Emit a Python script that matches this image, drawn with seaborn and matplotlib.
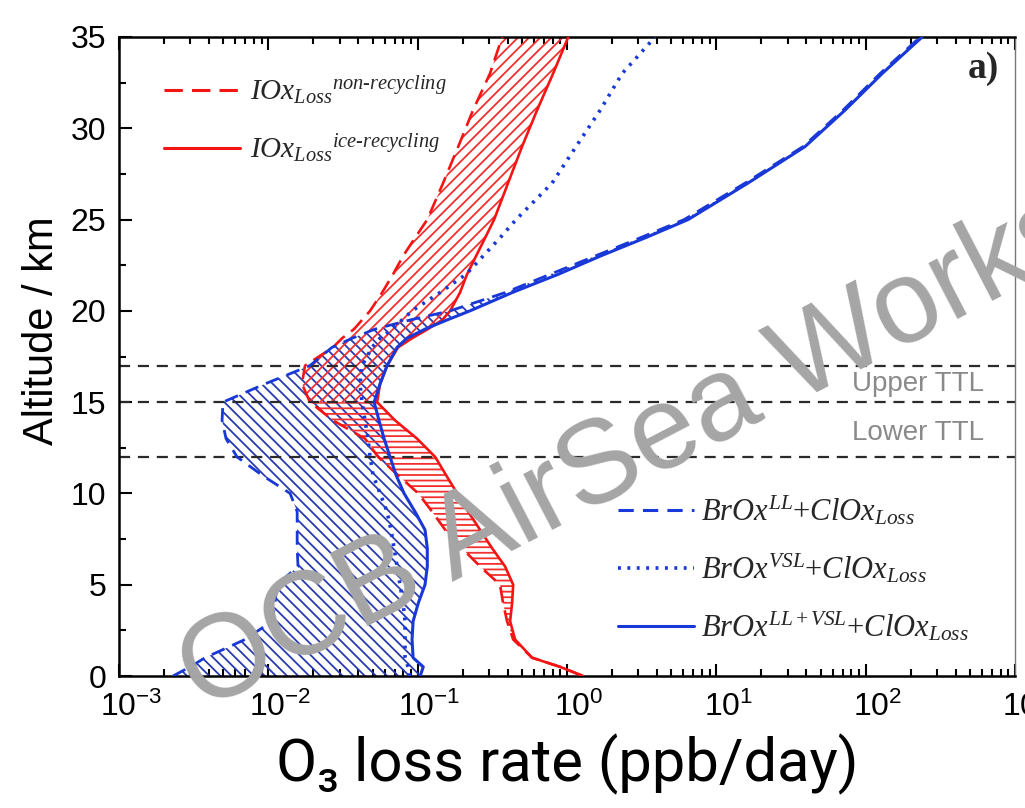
import numpy as np
import pandas as pd
import matplotlib
matplotlib.use("Agg")
import matplotlib.pyplot as plt
import matplotlib.transforms as mtransforms
from matplotlib.lines import Line2D
from matplotlib.ticker import LogLocator, MultipleLocator, NullFormatter, FixedLocator
import seaborn as sns

# ---------------- data ----------------
altitude = [0, 0.5, 1, 2, 3, 4, 5, 6, 7, 8, 9, 10, 11, 12, 13, 14, 15, 16, 17,
            18, 18.5, 19, 19.5, 20, 21, 22, 23, 24, 25, 27, 29, 31, 33, 35]

brox_ll = [0.00230, 0.00299, 0.00377, 0.00698, 0.0106, 0.0111, 0.0114, 0.0158,
           0.0156, 0.0156, 0.0156, 0.0140, 0.00907, 0.00617, 0.00521, 0.00490,
           0.00497, 0.0095, 0.0190, 0.0267, 0.0364, 0.0518, 0.0889, 0.165,
           0.385, 0.770, 1.54, 3.09, 6.09, 15.6, 38.1, 70.7, 125, 232]

brox_vsl = [0.0889, 0.0862, 0.0823, 0.0823, 0.0823, 0.0798, 0.0762, 0.0728,
            0.0695, 0.0663, 0.0624, 0.0560, 0.0503, 0.0480, 0.0465, 0.0444,
            0.0424, 0.0411, 0.0424, 0.0495, 0.0560, 0.0674, 0.0786, 0.0917,
            0.141, 0.211, 0.274, 0.356, 0.456, 0.795, 1.15, 1.67, 2.34, 3.89]

brox_llvsl = [0.104, 0.109, 0.0932, 0.0917, 0.0932, 0.101, 0.112, 0.116,
              0.116, 0.112, 0.0960, 0.0811, 0.0717, 0.0653, 0.0596, 0.0551,
              0.0511, 0.0560, 0.0624, 0.0728, 0.0849, 0.112, 0.157, 0.224,
              0.429, 0.872, 1.67, 3.34, 6.47, 16.3, 39.3, 72.9, 129, 239]

iox_nonrec = [1.28, 0.899, 0.584, 0.436, 0.397, 0.373, 0.356, 0.262, 0.198,
              0.153, 0.125, 0.101, 0.0739, 0.0543, 0.0444, 0.0271, 0.0190,
              0.0168, 0.0176, 0.0271, 0.0312, 0.0375, 0.0424, 0.0480, 0.0578,
              0.0684, 0.0798, 0.0960, 0.116, 0.148, 0.187, 0.235, 0.305, 0.368]

iox_icerec = [1.28, 0.899, 0.584, 0.449, 0.416, 0.429, 0.436, 0.385, 0.315,
              0.262, 0.218, 0.184, 0.155, 0.131, 0.0991, 0.0706, 0.0535,
              0.0560, 0.0624, 0.0739, 0.0917, 0.117, 0.146, 0.165, 0.192,
              0.214, 0.246, 0.283, 0.325, 0.403, 0.500, 0.631, 0.807, 1.02]

ttl_levels = [12, 15, 17]
ttl_labels = ["Upper TTL", "Lower TTL"]
ttl_label_alt = [16.0, 13.3]
hatch_split_alt = 15

x_limits = [1e-3, 1e3]
x_ticks = [1e-3, 1e-2, 1e-1, 1e0, 1e1, 1e2, 1e3]
y_ticks = [0, 5, 10, 15, 20, 25, 30, 35]

legend1_labels = [r"$IOx_{Loss}{}^{non\text{-}recycling}$",
                  r"$IOx_{Loss}{}^{ice\text{-}recycling}$"]
legend2_labels = [r"$BrOx^{LL}{+}ClOx_{Loss}$",
                  r"$BrOx^{VSL}{+}ClOx_{Loss}$",
                  r"$BrOx^{LL+VSL}{+}ClOx_{Loss}$"]

# ---------------- style ----------------
sns.set_theme(style="ticks")
plt.rcParams["font.family"] = ["Liberation Sans", "DejaVu Sans"]
plt.rcParams["mathtext.fontset"] = "custom"
plt.rcParams["mathtext.rm"] = "Liberation Serif"
plt.rcParams["mathtext.it"] = "Liberation Serif:italic"
plt.rcParams["mathtext.bf"] = "Liberation Serif:bold"
plt.rcParams["hatch.linewidth"] = 1.3
plt.rcParams["axes.unicode_minus"] = True

RED = "#f41414"
RED_HATCH = "#f23030"
BLUE = "#1838d8"
BLUE_HATCH = "#2a3bb0"

fig = plt.figure(figsize=(10.25, 8.08), dpi=100)
fig.patch.set_facecolor("white")
ax = fig.add_axes([119 / 1025, 1 - 676 / 808, (1015 - 119) / 1025, (676 - 37) / 808])
ax.set_facecolor("white")
ax.set_xscale("log")

df = pd.DataFrame({
    "alt": altitude,
    "ll": brox_ll,
    "vsl": brox_vsl,
    "llvsl": brox_llvsl,
    "nonrec": iox_nonrec,
    "icerec": iox_icerec,
})
alt = np.array(altitude)

# hatched ranges
ax.fill_betweenx(alt, brox_ll, brox_llvsl, facecolor="none", edgecolor=BLUE_HATCH,
                 hatch="\\\\\\", linewidth=0, zorder=1)
ax.fill_betweenx(alt, iox_nonrec, iox_icerec, where=alt >= hatch_split_alt,
                 facecolor="none", edgecolor=RED_HATCH, hatch="///", linewidth=0, zorder=1)
ax.fill_betweenx(alt, iox_nonrec, iox_icerec, where=alt <= hatch_split_alt,
                 facecolor="none", edgecolor=RED_HATCH, hatch="---", linewidth=0, zorder=1)

# TTL boundaries
for lev in ttl_levels:
    ax.axhline(lev, color="#2a2a2a", lw=1.6, linestyle=(0, (5, 3.5)), zorder=2)

# profiles
line_specs = [
    ("nonrec", RED, 1.9, (0, (6, 3))),
    ("icerec", RED, 1.9, "-"),
    ("ll", BLUE, 2.0, (0, (5, 3))),
    ("vsl", BLUE, 2.6, (0, (0.8, 1.8))),
    ("llvsl", BLUE, 2.2, "-"),
]
for col, c, lw, ls in line_specs:
    sns.lineplot(data=df, x=col, y="alt", orient="y", estimator=None, sort=True,
                 color=c, lw=lw, linestyle=ls, ax=ax, zorder=3)

# axes
ax.set_xlim(*x_limits)
ax.set_ylim(0, 35)
ax.set_yticks(y_ticks)
ax.yaxis.set_minor_locator(MultipleLocator(2.5))
ax.xaxis.set_major_locator(FixedLocator(x_ticks))
ax.xaxis.set_minor_locator(LogLocator(base=10, subs=np.arange(2, 10), numticks=100))
ax.xaxis.set_minor_formatter(NullFormatter())
ax.tick_params(which="both", direction="in", top=True, right=False, width=1.5,
               colors="black", labelsize=23)
ax.tick_params(axis="x", which="major", length=9, pad=11)
ax.tick_params(axis="y", which="major", length=9, pad=9)
ax.tick_params(which="minor", length=5)
for s in ["left", "bottom", "top"]:
    ax.spines[s].set_linewidth(1.8)
    ax.spines[s].set_color("black")
ax.spines["right"].set_linewidth(1.0)
ax.spines["right"].set_color("#777777")
ax.grid(False)

# Origin-style: the "10" sits on the tick, the exponent sticks out to the right
shift = mtransforms.ScaledTranslation(0.12, 0, fig.dpi_scale_trans)
for lab in ax.get_xticklabels():
    lab.set_transform(lab.get_transform() + shift)

ax.set_xlabel("")
ax.set_ylabel("Altitude / km", fontsize=30, color="black")
ax.yaxis.set_label_coords(-0.064, 0.54)

fig.text(567 / 1025, 1 - 764 / 808, "O\u2083 loss rate (ppb/day)", ha="center", va="center",
         fontsize=43, color="black", family=["Roboto", "DejaVu Sans"])

for lab, a in zip(ttl_labels, ttl_label_alt):
    ax.text(0.965, a, lab, transform=ax.get_yaxis_transform(), ha="right", va="center",
            color="#8a8a8a", fontsize=20, zorder=4)

ax.text(0.982, 0.978, "a)", transform=ax.transAxes, ha="right", va="top", fontsize=27,
        fontweight="bold", family="Liberation Serif", zorder=4)

# legends
h1 = [Line2D([], [], color=RED, lw=2.2, linestyle=(0, (6, 3))),
      Line2D([], [], color=RED, lw=2.2)]
leg1 = ax.legend(h1, legend1_labels, loc="upper left", bbox_to_anchor=(0.05, 0.942),
                 frameon=False, fontsize=21, handlelength=2.6, handletextpad=0.35,
                 labelspacing=0.9, borderpad=0, borderaxespad=0)
ax.add_artist(leg1)
h2 = [Line2D([], [], color=BLUE, lw=2.2, linestyle=(0, (5, 3))),
      Line2D([], [], color=BLUE, lw=2.6, linestyle=(0, (0.8, 1.8))),
      Line2D([], [], color=BLUE, lw=2.2)]
ax.legend(h2, legend2_labels, loc="upper left", bbox_to_anchor=(0.557, 0.285),
          frameon=False, fontsize=22, handlelength=2.5, handletextpad=0.2,
          labelspacing=0.8, borderpad=0, borderaxespad=0)

# watermark present in the source image
fig.text(203 / 1025, 1 - 712 / 808, "OCB AirSea Works", rotation=27.5, rotation_mode="anchor",
         ha="left", va="baseline", fontsize=85, color="#a5a5a5", zorder=10,
         family="Liberation Sans")

fig.savefig("out.png", dpi=100)
